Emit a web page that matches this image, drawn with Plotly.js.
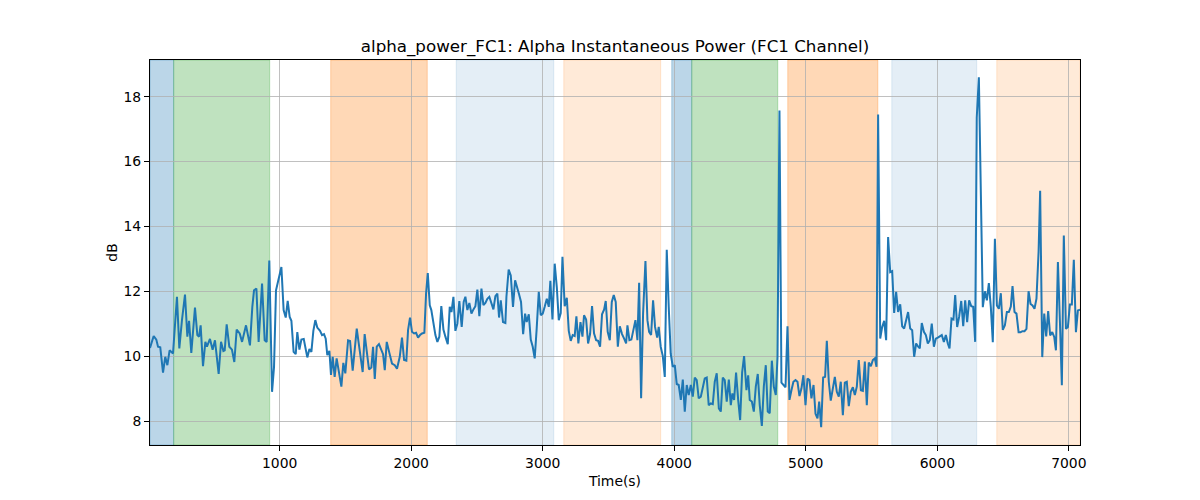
<!DOCTYPE html>
<html>
<head>
<meta charset="utf-8">
<script src="https://cdn.plot.ly/plotly-3.0.1.min.js"></script>
<style>
  body { margin: 0; background: #fff; }
  #chart { width: 1200px; height: 500px; }
</style>
</head>
<body>
<div id="chart"></div>
<script>
// alpha power, FC1 channel
const time_s = [
  14, 42, 62, 75, 92, 113, 130, 146, 163, 189, 219, 237, 257, 280, 298, 311, 328, 356, 374, 387,
  399, 417, 435, 447, 470, 490, 508, 536, 554, 572, 582, 597, 617, 637, 655, 673, 696, 714, 744, 774,
  792, 805, 823, 840, 866, 886, 901, 921, 942, 957, 972, 992, 1013, 1030, 1046, 1061, 1076, 1089, 1106, 1122,
  1134, 1150, 1165, 1183, 1198, 1210, 1226, 1241, 1256, 1271, 1286, 1307, 1322, 1337, 1350, 1362, 1378, 1390, 1403, 1418,
  1433, 1449, 1469, 1484, 1499, 1520, 1535, 1555, 1570, 1586, 1601, 1616, 1631, 1646, 1662, 1679, 1697, 1710, 1723, 1738,
  1755, 1773, 1786, 1799, 1814, 1834, 1854, 1875, 1892, 1913, 1930, 1946, 1963, 1976, 1991, 2006, 2022, 2037, 2052, 2067,
  2082, 2100, 2113, 2126, 2141, 2153, 2169, 2184, 2199, 2214, 2229, 2245, 2260, 2278, 2293, 2306, 2321, 2336, 2351, 2366,
  2384, 2399, 2412, 2427, 2442, 2458, 2473, 2488, 2503, 2518, 2534, 2549, 2564, 2579, 2594, 2610, 2625, 2640, 2655, 2668,
  2681, 2698, 2716, 2724, 2741, 2757, 2774, 2790, 2805, 2820, 2835, 2851, 2866, 2878, 2894, 2909, 2924, 2939, 2954, 2970,
  2985, 3000, 3015, 3031, 3046, 3058, 3074, 3091, 3107, 3122, 3137, 3150, 3167, 3183, 3198, 3213, 3228, 3243, 3256, 3271,
  3287, 3302, 3314, 3330, 3345, 3360, 3375, 3390, 3406, 3421, 3436, 3451, 3467, 3479, 3494, 3510, 3525, 3540, 3555, 3571,
  3586, 3603, 3619, 3634, 3644, 3659, 3674, 3690, 3705, 3720, 3733, 3748, 3763, 3781, 3796, 3809, 3824, 3839, 3854, 3870,
  3882, 3897, 3913, 3928, 3943, 3958, 3973, 3989, 4004, 4019, 4034, 4050, 4065, 4080, 4095, 4110, 4126, 4141, 4156, 4171,
  4186, 4202, 4217, 4232, 4247, 4262, 4278, 4293, 4308, 4323, 4339, 4354, 4369, 4384, 4399, 4415, 4430, 4442, 4455, 4470,
  4486, 4501, 4516, 4531, 4549, 4562, 4574, 4590, 4605, 4620, 4635, 4650, 4666, 4681, 4696, 4711, 4726, 4742, 4757, 4772,
  4785, 4800, 4815, 4830, 4846, 4861, 4876, 4891, 4906, 4922, 4937, 4952, 4967, 4982, 4998, 5013, 5028, 5043, 5059, 5074,
  5089, 5102, 5117, 5132, 5147, 5160, 5175, 5190, 5206, 5221, 5236, 5251, 5266, 5282, 5297, 5312, 5327, 5342, 5358, 5373,
  5388, 5403, 5419, 5434, 5449, 5464, 5479, 5495, 5510, 5525, 5538, 5550, 5566, 5581, 5596, 5611, 5626, 5642, 5657, 5672,
  5687, 5702, 5718, 5733, 5748, 5763, 5778, 5794, 5809, 5824, 5839, 5855, 5867, 5882, 5898, 5913, 5928, 5943, 5958, 5974,
  5989, 6004, 6019, 6034, 6050, 6065, 6080, 6093, 6108, 6123, 6136, 6151, 6166, 6182, 6197, 6212, 6227, 6242, 6258, 6273,
  6288, 6300, 6316, 6331, 6346, 6362, 6377, 6392, 6407, 6422, 6438, 6453, 6468, 6483, 6498, 6514, 6529, 6544, 6559, 6572,
  6587, 6602, 6618, 6633, 6648, 6663, 6678, 6694, 6709, 6724, 6739, 6754, 6770, 6782, 6798, 6813, 6828, 6843, 6858, 6874,
  6889, 6902, 6917, 6932, 6947, 6962, 6978, 6993, 7008, 7023, 7038, 7054, 7069, 7085
];
const power_db = [
  10.25, 10.62, 10.51, 10.29, 10.27, 9.49, 9.98, 9.72, 10.18, 10.08, 11.83, 10.24, 11.11, 11.9, 10.6, 11.09, 10.1, 11.5, 10.65, 10.6,
  10.95, 9.69, 10.44, 10.29, 10.53, 10.2, 10.49, 9.45, 10.44, 10.16, 10.18, 10.98, 10.29, 10.2, 9.82, 10.82, 10.7, 10.44, 10.95, 10.33,
  11.52, 12.03, 12.08, 10.44, 12.24, 10.49, 10.44, 12.95, 8.9, 9.67, 12.03, 12.34, 12.75, 11.42, 11.19, 11.7, 11.21, 11.09, 10.13, 10.06,
  10.74, 10.2, 10.51, 10.53, 10.16, 9.96, 10.22, 10.13, 10.78, 11.11, 10.88, 10.78, 10.65, 10.68, 10.54, 10.03, 10.16, 9.42, 9.98, 9.36,
  9.93, 9.57, 9.06, 9.79, 9.47, 10.49, 10.47, 9.55, 10.29, 10.85, 10.39, 9.88, 9.51, 10.68, 10.18, 9.59, 9.65, 10.29, 9.3, 10.29,
  10.37, 10.16, 10.06, 9.57, 10.44, 10.1, 9.77, 9.72, 9.61, 9.98, 10.57, 9.88, 9.86, 10.8, 11.19, 10.75, 10.7, 10.72, 10.57, 10.65,
  10.7, 10.72, 11.93, 12.56, 11.57, 11.42, 11.0, 10.65, 10.44, 10.6, 11.54, 10.82, 10.6, 10.37, 11.52, 11.36, 11.83, 10.78, 11.0, 11.7,
  10.9, 11.67, 11.83, 11.42, 11.64, 11.31, 11.44, 11.54, 12.05, 11.23, 12.08, 11.57, 11.64, 11.77, 11.83, 11.6, 11.44, 11.85, 11.93, 11.19,
  11.72, 11.05, 11.02, 11.83, 12.67, 12.49, 11.52, 12.34, 12.15, 11.91, 11.67, 10.68, 11.31, 11.05, 11.29, 10.51, 10.29, 9.93, 10.85, 11.98,
  11.26, 11.31, 11.52, 11.77, 11.52, 12.32, 11.13, 12.85, 12.13, 11.11, 11.33, 13.06, 11.54, 11.8, 10.78, 10.47, 10.65, 10.62, 11.23, 10.39,
  11.05, 10.6, 11.26, 11.13, 10.39, 10.68, 11.54, 10.7, 10.49, 10.47, 10.29, 11.29, 11.44, 11.7, 10.75, 10.49, 11.67, 11.88, 11.67, 10.29,
  10.92, 10.68, 10.54, 10.39, 10.95, 10.49, 10.51, 10.85, 11.11, 10.49, 12.26, 8.7, 11.31, 12.93, 11.11, 10.75, 10.65, 11.72, 10.9, 10.57,
  10.9, 10.29, 10.0, 9.36, 13.28, 11.52, 10.08, 9.67, 9.72, 9.14, 9.11, 8.65, 9.28, 8.29, 9.11, 8.8, 9.11, 8.75, 9.34, 9.26,
  8.7, 8.75, 9.06, 9.31, 9.34, 8.49, 8.54, 8.52, 9.21, 9.47, 8.39, 8.29, 9.34, 9.26, 8.6, 9.28, 8.49, 8.85, 8.65, 9.49,
  8.65, 8.03, 9.49, 10.0, 8.95, 9.41, 8.65, 8.6, 8.29, 9.06, 9.45, 8.49, 7.85, 9.06, 9.72, 8.29, 8.24, 9.86, 9.06, 8.8,
  9.98, 17.57, 9.18, 9.11, 9.04, 10.92, 8.65, 8.95, 9.21, 9.26, 9.21, 8.77, 9.0, 9.41, 8.49, 9.31, 9.26, 8.7, 9.11, 8.22,
  8.08, 8.6, 7.81, 9.34, 9.36, 10.47, 9.21, 8.63, 8.95, 9.36, 8.9, 8.75, 9.21, 8.18, 9.18, 9.21, 8.46, 8.9, 9.04, 8.8,
  9.06, 9.88, 8.95, 8.93, 9.83, 8.49, 9.8, 9.69, 9.88, 9.93, 9.67, 17.45, 10.54, 10.9, 11.09, 10.49, 13.67, 12.59, 12.62, 11.33,
  11.98, 11.36, 11.6, 10.92, 10.85, 11.13, 11.36, 10.85, 10.8, 9.98, 10.39, 10.29, 10.24, 11.02, 10.75, 10.65, 10.39, 10.49, 11.0, 10.29,
  10.54, 10.57, 10.6, 10.65, 10.44, 10.65, 10.39, 10.24, 11.16, 11.13, 11.88, 10.9, 11.21, 11.7, 10.92, 11.72, 11.05, 11.72, 11.54, 11.52,
  10.44, 17.36, 18.6, 15.0, 11.51, 12.0, 11.72, 12.25, 11.51, 10.43, 13.62, 11.56, 11.46, 11.94, 10.81, 10.95, 11.36, 11.36, 11.53, 12.16,
  11.36, 11.31, 10.74, 10.74, 10.77, 10.77, 10.84, 12.0, 11.61, 11.56, 11.46, 11.77, 13.21, 15.1, 9.97, 11.31, 10.61, 11.39, 10.64, 10.74,
  10.59, 10.18, 12.9, 11.1, 9.1, 13.72, 10.84, 10.9, 11.59, 11.59, 12.97, 10.74, 11.41, 11.43
];

// shaded stages
const span_start = [14, 194, 1388, 2342, 3160, 3981, 4133, 4863, 5654, 6452];
const span_end   = [194, 924, 2122, 3084, 3897, 4133, 4787, 5548, 6300, 7085];
const span_color = [
  'rgba(31,119,180,0.3)', 'rgba(44,160,44,0.3)', 'rgba(255,127,14,0.3)',
  'rgba(31,119,180,0.12)', 'rgba(255,127,14,0.16)', 'rgba(31,119,180,0.3)',
  'rgba(44,160,44,0.3)', 'rgba(255,127,14,0.3)', 'rgba(31,119,180,0.12)',
  'rgba(255,127,14,0.16)'
];

const shapes = span_start.map((s, i) => ({
  type: 'rect', xref: 'x', yref: 'paper',
  x0: s, x1: span_end[i], y0: 0, y1: 1,
  fillcolor: span_color[i],
  line: {color: span_color[i], width: 1},
  layer: 'below'
}));

const trace = {
  x: time_s,
  y: power_db,
  mode: 'lines',
  type: 'scatter',
  line: {color: '#1f77b4', width: 2},
  hoverinfo: 'x+y'
};

const font = {family: 'DejaVu Sans, sans-serif', size: 13.9, color: '#000'};

const layout = {
  width: 1200,
  height: 500,
  margin: {l: 150, r: 120, t: 60, b: 55},
  paper_bgcolor: '#fff',
  plot_bgcolor: '#fff',
  font: font,
  showlegend: false,
  title: {
    text: 'alpha_power_FC1: Alpha Instantaneous Power (FC1 Channel)',
    font: {family: 'DejaVu Sans, sans-serif', size: 16.7, color: '#000'},
    xref: 'paper', x: 0.5, xanchor: 'center',
    yref: 'container', y: 0.908, yanchor: 'middle'
  },
  xaxis: {
    range: [14, 7085],
    tickvals: [1000, 2000, 3000, 4000, 5000, 6000, 7000],
    showgrid: true, gridcolor: '#b0b0b0', gridwidth: 0.8,
    zeroline: false,
    showline: true, mirror: true, linecolor: '#000', linewidth: 1,
    ticks: 'outside', ticklen: 5, tickcolor: '#000', tickwidth: 1,
    title: {text: 'Time(s)', font: font, standoff: 6},
    automargin: false
  },
  yaxis: {
    range: [7.26, 19.13],
    tickvals: [8, 10, 12, 14, 16, 18],
    showgrid: true, gridcolor: '#b0b0b0', gridwidth: 0.8,
    zeroline: false,
    showline: true, mirror: true, linecolor: '#000', linewidth: 1,
    ticks: 'outside', ticklen: 5, tickcolor: '#000', tickwidth: 1,
    title: {text: 'dB', font: font, standoff: 2},
    automargin: false
  },
  shapes: shapes
};

Plotly.newPlot('chart', [trace], layout, {displayModeBar: false, staticPlot: true});
</script>
</body>
</html>
